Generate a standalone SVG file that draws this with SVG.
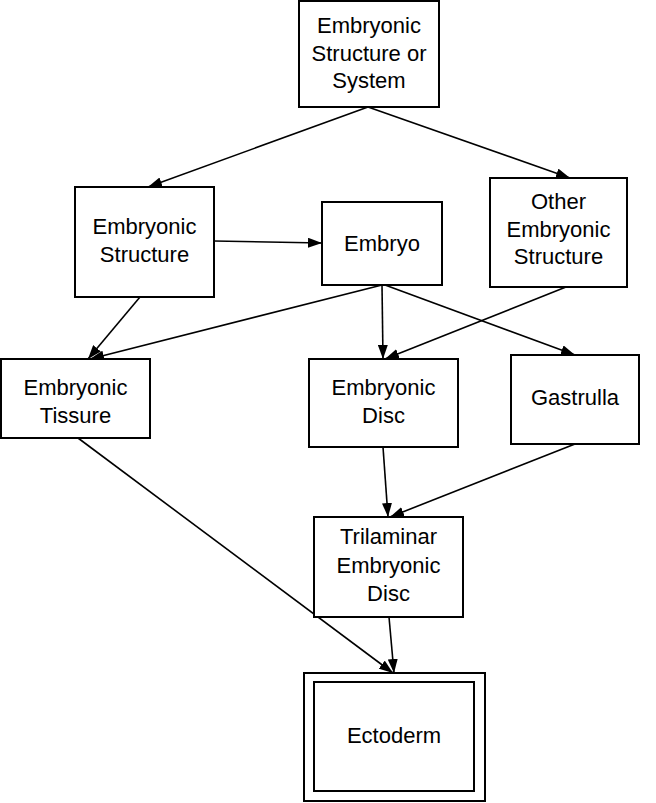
<svg xmlns="http://www.w3.org/2000/svg" width="656" height="803" viewBox="0 0 656 803">
<style>
.box{fill:#fff;stroke:#000;stroke-width:2}
.t{font-family:"Liberation Sans",Arial,sans-serif;font-size:22px;fill:#000;text-anchor:middle}
.e{stroke:#000;stroke-width:1.6;fill:none;marker-end:url(#ah)}
</style>
<defs>
<marker id="ah" viewBox="0 0 14 10" refX="14" refY="5" markerWidth="14" markerHeight="10" markerUnits="userSpaceOnUse" orient="auto">
<path d="M0,0 L14,5 L0,10 Z" fill="#000"/>
</marker>
</defs>
<rect width="656" height="803" fill="#fff"/>
<g id="edges">
<line class="e" x1="368" y1="107" x2="148" y2="187"/>
<line class="e" x1="368" y1="107" x2="570" y2="178"/>
<line class="e" x1="214" y1="241" x2="322" y2="243"/>
<line class="e" x1="140" y1="297" x2="88" y2="359"/>
<line class="e" x1="382" y1="285" x2="90" y2="359"/>
<line class="e" x1="382" y1="285" x2="383" y2="359"/>
<line class="e" x1="385" y1="285" x2="575" y2="355"/>
<line class="e" x1="566" y1="287" x2="385" y2="359"/>
<line class="e" x1="383" y1="447" x2="388" y2="517"/>
<line class="e" x1="575" y1="444" x2="390" y2="517"/>
<line class="e" x1="78" y1="438" x2="393" y2="673"/>
<line class="e" x1="389" y1="617" x2="394" y2="673"/>
</g>
<g id="n_top">
<rect class="box" x="299" y="1" width="140" height="106"/>
<text class="t" x="369" y="33">Embryonic</text>
<text class="t" x="369" y="61">Structure or</text>
<text class="t" x="369" y="88">System</text>
</g>
<g id="n_es">
<rect class="box" x="75" y="187" width="139" height="110"/>
<text class="t" x="144.5" y="234">Embryonic</text>
<text class="t" x="144.5" y="262">Structure</text>
</g>
<g id="n_embryo">
<rect class="box" x="322" y="202" width="120" height="83"/>
<text class="t" x="382" y="251">Embryo</text>
</g>
<g id="n_other">
<rect class="box" x="490" y="178" width="137" height="109"/>
<text class="t" x="558.5" y="209">Other</text>
<text class="t" x="558.5" y="237">Embryonic</text>
<text class="t" x="558.5" y="264">Structure</text>
</g>
<g id="n_tissue">
<rect class="box" x="1" y="359" width="149" height="79"/>
<text class="t" x="75.5" y="395">Embryonic</text>
<text class="t" x="75.5" y="423">Tissure</text>
</g>
<g id="n_disc">
<rect class="box" x="309" y="359" width="149" height="88"/>
<text class="t" x="383.5" y="395">Embryonic</text>
<text class="t" x="383.5" y="423">Disc</text>
</g>
<g id="n_gastrulla">
<rect class="box" x="511" y="355" width="128" height="89"/>
<text class="t" x="575" y="405">Gastrulla</text>
</g>
<g id="n_trilaminar">
<rect class="box" x="314" y="517" width="149" height="100"/>
<text class="t" x="388.5" y="544">Trilaminar</text>
<text class="t" x="388.5" y="573">Embryonic</text>
<text class="t" x="388.5" y="601">Disc</text>
</g>
<g id="n_ectoderm">
<rect class="box" x="304" y="673" width="181" height="128"/>
<rect class="box" x="314" y="682" width="160" height="109"/>
<text class="t" x="394" y="743">Ectoderm</text>
</g>
</svg>
